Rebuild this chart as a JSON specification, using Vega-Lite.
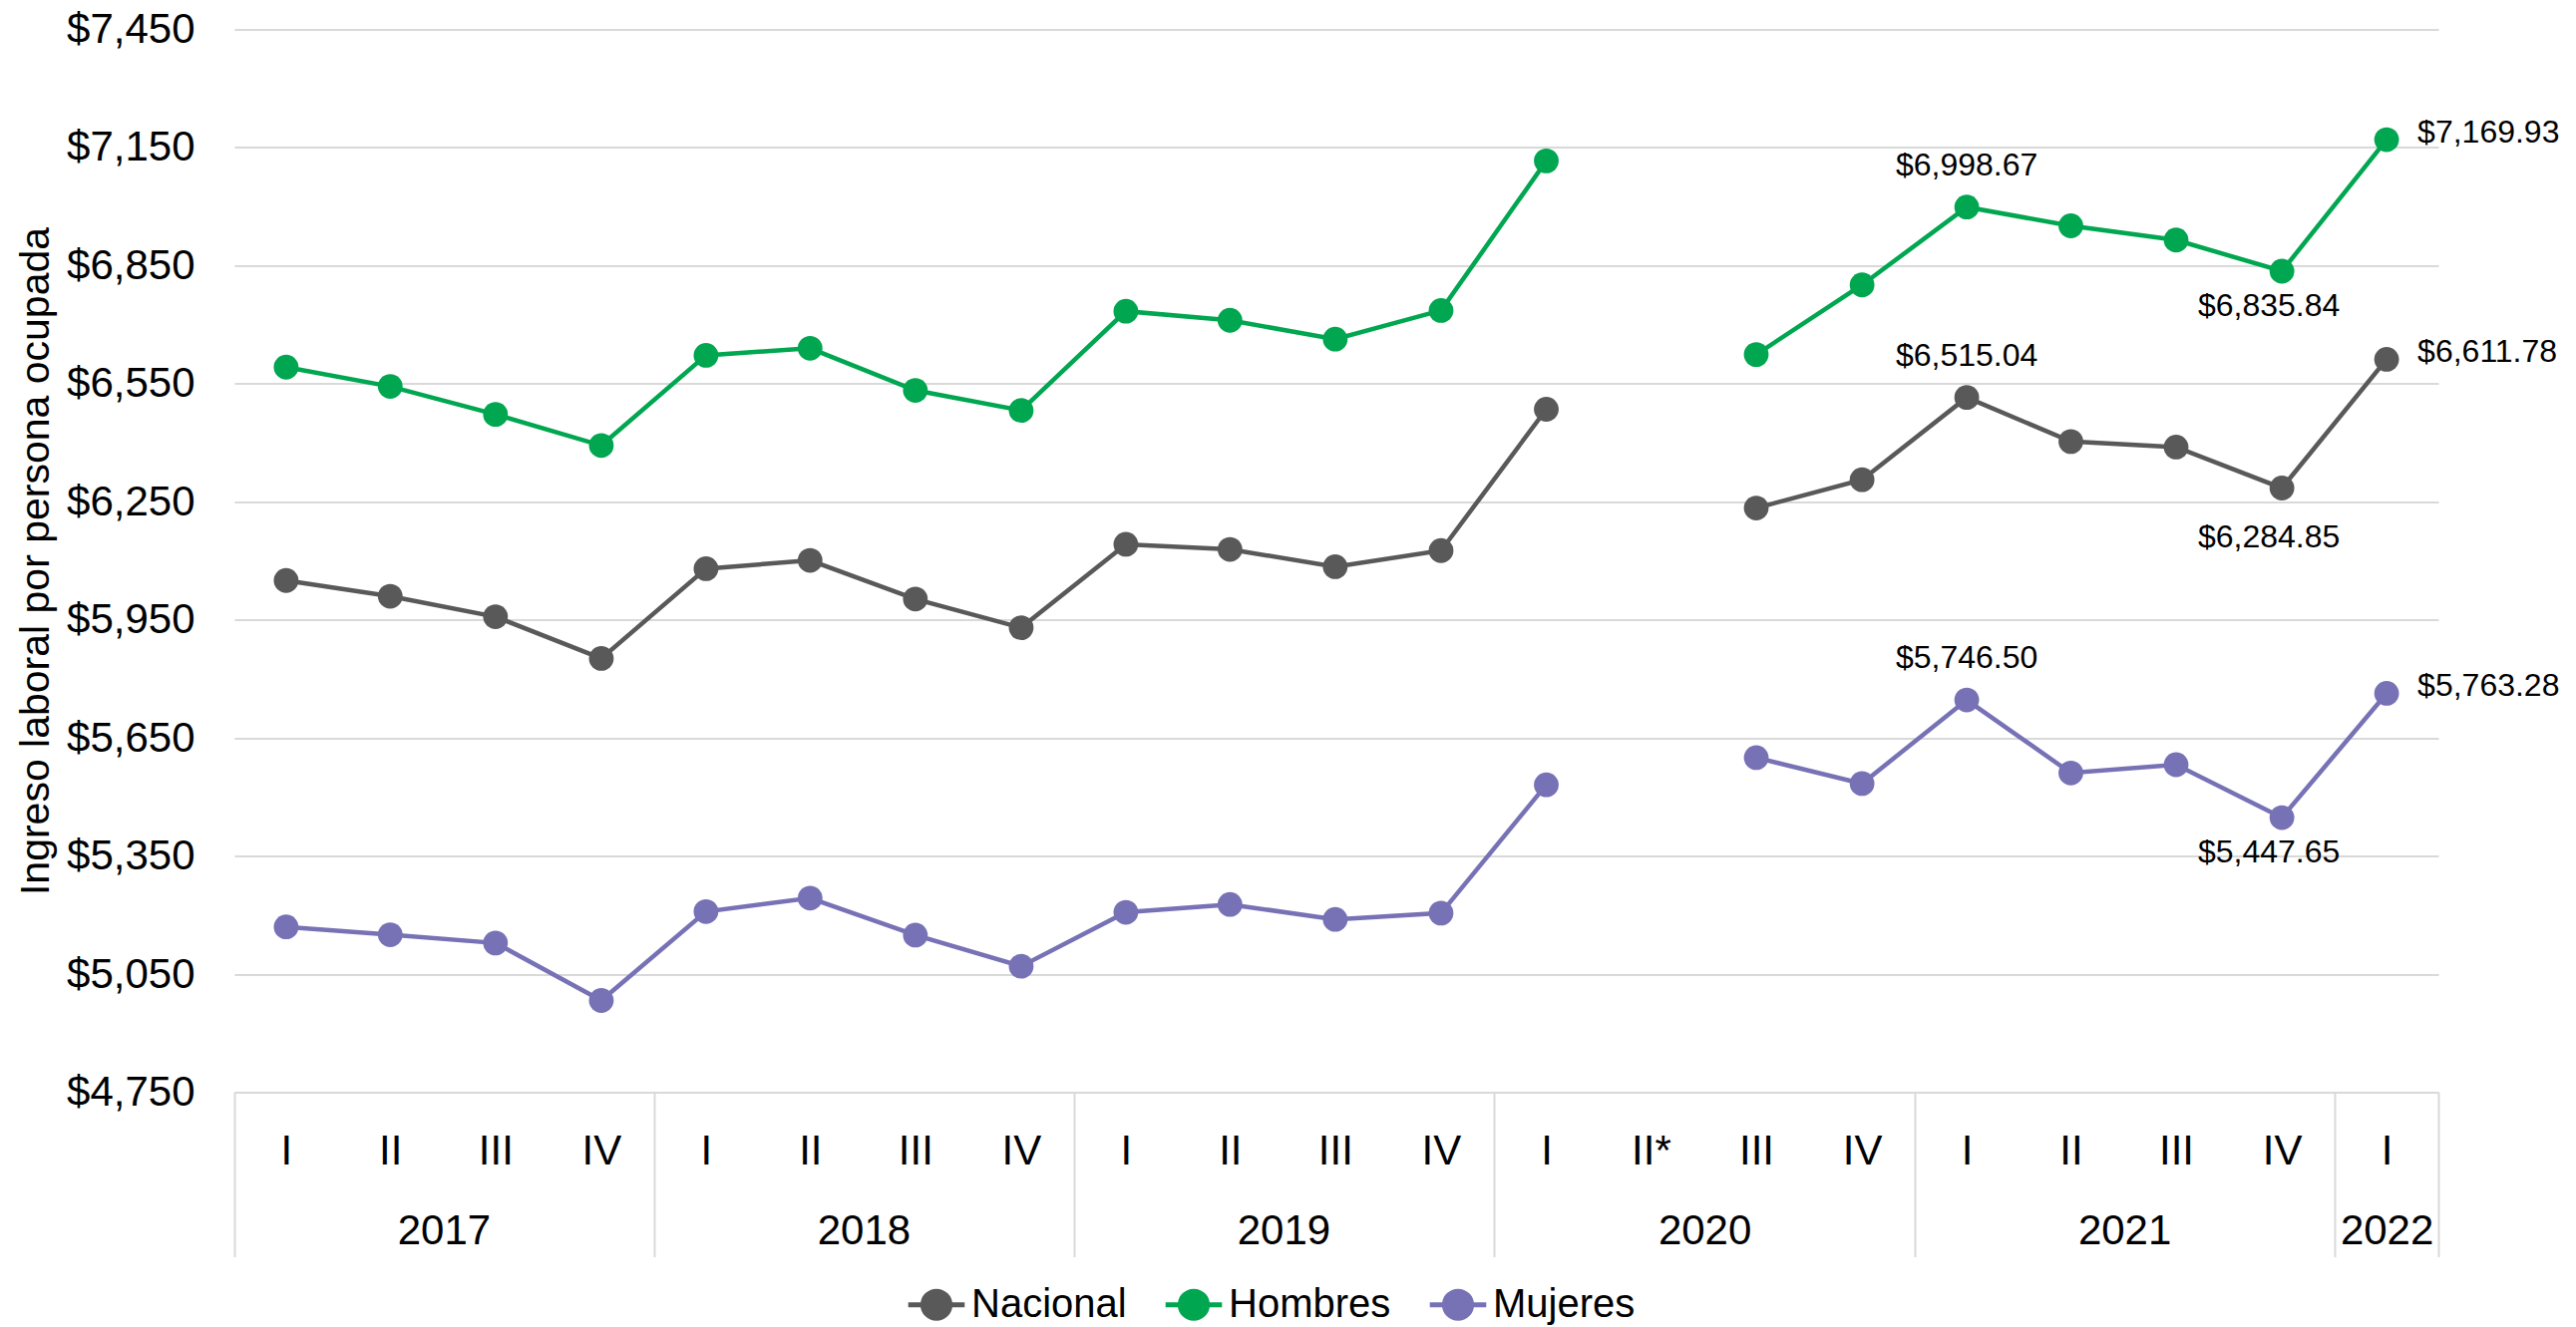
{
  "$schema": "https://vega.github.io/schema/vega-lite/v6.json",
  "width": 2210,
  "height": 1066,
  "autosize": {"type": "none"},
  "padding": {"left": 235, "top": 29.5, "right": 138, "bottom": 235.5},
  "background": "white",
  "config": {
    "font": "Liberation Sans",
    "view": {"stroke": null},
    "axis": {"labelFont": "Liberation Sans", "titleFont": "Liberation Sans", "labelColor": "#000000", "titleColor": "#000000"}
  },
  "data": {
    "values": [
      {"fecha": "2017-01-01", "serie": "Nacional", "valor": 6050},
      {"fecha": "2017-04-01", "serie": "Nacional", "valor": 6010},
      {"fecha": "2017-07-01", "serie": "Nacional", "valor": 5958},
      {"fecha": "2017-10-01", "serie": "Nacional", "valor": 5852},
      {"fecha": "2018-01-01", "serie": "Nacional", "valor": 6080},
      {"fecha": "2018-04-01", "serie": "Nacional", "valor": 6101},
      {"fecha": "2018-07-01", "serie": "Nacional", "valor": 6003},
      {"fecha": "2018-10-01", "serie": "Nacional", "valor": 5930},
      {"fecha": "2019-01-01", "serie": "Nacional", "valor": 6142},
      {"fecha": "2019-04-01", "serie": "Nacional", "valor": 6129},
      {"fecha": "2019-07-01", "serie": "Nacional", "valor": 6085},
      {"fecha": "2019-10-01", "serie": "Nacional", "valor": 6126},
      {"fecha": "2020-01-01", "serie": "Nacional", "valor": 6485},
      {"fecha": "2020-04-01", "serie": "Nacional", "valor": null},
      {"fecha": "2020-07-01", "serie": "Nacional", "valor": 6234},
      {"fecha": "2020-10-01", "serie": "Nacional", "valor": 6306},
      {"fecha": "2021-01-01", "serie": "Nacional", "valor": 6515.04},
      {"fecha": "2021-04-01", "serie": "Nacional", "valor": 6403},
      {"fecha": "2021-07-01", "serie": "Nacional", "valor": 6389},
      {"fecha": "2021-10-01", "serie": "Nacional", "valor": 6284.85},
      {"fecha": "2022-01-01", "serie": "Nacional", "valor": 6611.78},
      {"fecha": "2017-01-01", "serie": "Hombres", "valor": 6592},
      {"fecha": "2017-04-01", "serie": "Hombres", "valor": 6543},
      {"fecha": "2017-07-01", "serie": "Hombres", "valor": 6472},
      {"fecha": "2017-10-01", "serie": "Hombres", "valor": 6393},
      {"fecha": "2018-01-01", "serie": "Hombres", "valor": 6622},
      {"fecha": "2018-04-01", "serie": "Hombres", "valor": 6640},
      {"fecha": "2018-07-01", "serie": "Hombres", "valor": 6533},
      {"fecha": "2018-10-01", "serie": "Hombres", "valor": 6482},
      {"fecha": "2019-01-01", "serie": "Hombres", "valor": 6734},
      {"fecha": "2019-04-01", "serie": "Hombres", "valor": 6711},
      {"fecha": "2019-07-01", "serie": "Hombres", "valor": 6663},
      {"fecha": "2019-10-01", "serie": "Hombres", "valor": 6736},
      {"fecha": "2020-01-01", "serie": "Hombres", "valor": 7116},
      {"fecha": "2020-04-01", "serie": "Hombres", "valor": null},
      {"fecha": "2020-07-01", "serie": "Hombres", "valor": 6624},
      {"fecha": "2020-10-01", "serie": "Hombres", "valor": 6801},
      {"fecha": "2021-01-01", "serie": "Hombres", "valor": 6998.67},
      {"fecha": "2021-04-01", "serie": "Hombres", "valor": 6951},
      {"fecha": "2021-07-01", "serie": "Hombres", "valor": 6915},
      {"fecha": "2021-10-01", "serie": "Hombres", "valor": 6835.84},
      {"fecha": "2022-01-01", "serie": "Hombres", "valor": 7169.93},
      {"fecha": "2017-01-01", "serie": "Mujeres", "valor": 5170},
      {"fecha": "2017-04-01", "serie": "Mujeres", "valor": 5150},
      {"fecha": "2017-07-01", "serie": "Mujeres", "valor": 5129},
      {"fecha": "2017-10-01", "serie": "Mujeres", "valor": 4983},
      {"fecha": "2018-01-01", "serie": "Mujeres", "valor": 5209},
      {"fecha": "2018-04-01", "serie": "Mujeres", "valor": 5243},
      {"fecha": "2018-07-01", "serie": "Mujeres", "valor": 5149},
      {"fecha": "2018-10-01", "serie": "Mujeres", "valor": 5070},
      {"fecha": "2019-01-01", "serie": "Mujeres", "valor": 5207},
      {"fecha": "2019-04-01", "serie": "Mujeres", "valor": 5227},
      {"fecha": "2019-07-01", "serie": "Mujeres", "valor": 5189},
      {"fecha": "2019-10-01", "serie": "Mujeres", "valor": 5205},
      {"fecha": "2020-01-01", "serie": "Mujeres", "valor": 5531},
      {"fecha": "2020-04-01", "serie": "Mujeres", "valor": null},
      {"fecha": "2020-07-01", "serie": "Mujeres", "valor": 5600},
      {"fecha": "2020-10-01", "serie": "Mujeres", "valor": 5534},
      {"fecha": "2021-01-01", "serie": "Mujeres", "valor": 5746.50},
      {"fecha": "2021-04-01", "serie": "Mujeres", "valor": 5561},
      {"fecha": "2021-07-01", "serie": "Mujeres", "valor": 5582},
      {"fecha": "2021-10-01", "serie": "Mujeres", "valor": 5447.65},
      {"fecha": "2022-01-01", "serie": "Mujeres", "valor": 5763.28}
    ]
  },
  "layer": [
    {
      "mark": {"type": "line", "strokeWidth": 4.5, "invalid": "break-paths-filter-domains"},
      "encoding": {
        "x": {
          "field": "fecha", "type": "temporal", "timeUnit": "utcyearquarter", "bandPosition": 0.5,
          "scale": {"domain": [{"year": 2017, "month": 1, "date": 1, "utc": true}, {"year": 2022, "month": 4, "date": 1, "utc": true}], "nice": false},
          "axis": {
            "orient": "bottom", "title": null,
            "values": [
              {"year": 2017, "month": 2, "date": 15, "utc": true}, {"year": 2017, "month": 5, "date": 16, "hours": 12, "utc": true}, {"year": 2017, "month": 8, "date": 16, "utc": true}, {"year": 2017, "month": 11, "date": 16, "utc": true},
              {"year": 2018, "month": 2, "date": 15, "utc": true}, {"year": 2018, "month": 5, "date": 16, "hours": 12, "utc": true}, {"year": 2018, "month": 8, "date": 16, "utc": true}, {"year": 2018, "month": 11, "date": 16, "utc": true},
              {"year": 2019, "month": 2, "date": 15, "utc": true}, {"year": 2019, "month": 5, "date": 16, "hours": 12, "utc": true}, {"year": 2019, "month": 8, "date": 16, "utc": true}, {"year": 2019, "month": 11, "date": 16, "utc": true},
              {"year": 2020, "month": 2, "date": 15, "hours": 12, "utc": true}, {"year": 2020, "month": 5, "date": 16, "hours": 12, "utc": true}, {"year": 2020, "month": 8, "date": 16, "utc": true}, {"year": 2020, "month": 11, "date": 16, "utc": true},
              {"year": 2021, "month": 2, "date": 15, "utc": true}, {"year": 2021, "month": 5, "date": 16, "hours": 12, "utc": true}, {"year": 2021, "month": 8, "date": 16, "utc": true}, {"year": 2021, "month": 11, "date": 16, "utc": true},
              {"year": 2022, "month": 2, "date": 15, "utc": true}
            ],
            "labelExpr": "['I','II','III','IV'][utcquarter(datum.value)-1] + ((utcyear(datum.value)==2020 && utcquarter(datum.value)==2) ? '*' : '')",
            "ticks": false, "grid": false, "domain": true, "domainColor": "#d9d9d9", "domainWidth": 2,
            "labelFontSize": 42, "labelBaseline": "alphabetic", "labelPadding": 72, "labelAlign": "center", "labelFlush": false, "labelOverlap": false
          }
        },
        "y": {
          "field": "valor", "type": "quantitative",
          "scale": {"domain": [4750, 7450], "nice": false, "zero": false},
          "axis": {
            "title": "Ingreso laboral por persona ocupada",
            "values": [4750, 5050, 5350, 5650, 5950, 6250, 6550, 6850, 7150, 7450],
            "format": "$,.0f", "ticks": false, "domain": false, "grid": true, "gridColor": "#d9d9d9", "gridWidth": 2,
            "labelFontSize": 42, "labelPadding": 40, "titleFontSize": 41, "titleFontWeight": "normal", "titlePadding": 9
          }
        },
        "color": {
          "field": "serie", "type": "nominal",
          "scale": {"domain": ["Nacional", "Hombres", "Mujeres"], "range": ["#595959", "#00A650", "#7772B5"]},
          "legend": {
            "title": null, "orient": "none", "legendX": 673, "legendY": 1248, "direction": "horizontal",
            "symbolType": "M-1,0L1,0M-0.48,0A0.48,0.48,0,1,1,0.48,0A0.48,0.48,0,1,1,-0.48,0Z",
            "symbolSize": 3200, "symbolStrokeWidth": 5, "labelFontSize": 40, "labelFont": "Liberation Sans", "labelColor": "#000000",
            "labelOffset": 4, "columnPadding": 28, "labelLimit": 0,
            "encode": {"symbols": {"update": {"fill": {"scale": "color", "field": "value"}, "stroke": {"scale": "color", "field": "value"}, "strokeWidth": {"value": 5}, "opacity": {"value": 1}}}}
          }
        }
      }
    },
    {
      "mark": {"type": "point", "filled": true, "size": 615, "opacity": 1},
      "encoding": {
        "x": {
          "field": "fecha", "type": "temporal", "timeUnit": "utcyearquarter", "bandPosition": 0.5,
          "axis": {
            "orient": "bottom", "title": null,
            "values": [
              {"year": 2017, "month": 7, "date": 2, "utc": true}, {"year": 2018, "month": 7, "date": 2, "utc": true}, {"year": 2019, "month": 7, "date": 2, "utc": true},
              {"year": 2020, "month": 7, "date": 2, "utc": true}, {"year": 2021, "month": 7, "date": 2, "utc": true}, {"year": 2022, "month": 2, "date": 15, "utc": true}
            ],
            "labelExpr": "utcFormat(datum.value, '%Y')",
            "ticks": false, "grid": false, "domain": false,
            "labelFontSize": 42, "labelBaseline": "alphabetic", "labelPadding": 152, "labelAlign": "center", "labelFlush": false, "labelOverlap": false
          }
        },
        "y": {"field": "valor", "type": "quantitative"},
        "color": {
          "field": "serie", "type": "nominal",
          "legend": {
            "title": null, "orient": "none", "legendX": 673, "legendY": 1248, "direction": "horizontal",
            "symbolType": "M-1,0L1,0M-0.48,0A0.48,0.48,0,1,1,0.48,0A0.48,0.48,0,1,1,-0.48,0Z",
            "symbolSize": 3200, "symbolStrokeWidth": 5, "labelFontSize": 40, "labelFont": "Liberation Sans", "labelColor": "#000000",
            "labelOffset": 4, "columnPadding": 28, "labelLimit": 0,
            "encode": {"symbols": {"update": {"fill": {"scale": "color", "field": "value"}, "stroke": {"scale": "color", "field": "value"}, "strokeWidth": {"value": 5}, "opacity": {"value": 1}}}}
          }
        }
      }
    },
    {
      "transform": [{"filter": {"field": "fecha", "timeUnit": "utcyearquarter", "equal": {"year": 2021, "quarter": 1, "utc": true}}}],
      "mark": {"type": "text", "font": "Liberation Sans", "fontSize": 32, "color": "#000000", "baseline": "alphabetic", "align": "center", "dy": -32},
      "encoding": {
        "x": {
          "field": "fecha", "type": "temporal", "timeUnit": "utcyearquarter", "bandPosition": 0.5,
          "axis": {
            "orient": "bottom", "title": null,
            "values": [
              {"year": 2017, "month": 1, "date": 1, "utc": true}, {"year": 2018, "month": 1, "date": 1, "utc": true}, {"year": 2019, "month": 1, "date": 1, "utc": true},
              {"year": 2020, "month": 1, "date": 1, "utc": true}, {"year": 2021, "month": 1, "date": 1, "utc": true}, {"year": 2022, "month": 1, "date": 1, "utc": true},
              {"year": 2022, "month": 4, "date": 1, "utc": true}
            ],
            "labels": false, "domain": false, "grid": false, "ticks": true, "tickSize": 165, "tickColor": "#d9d9d9", "tickWidth": 2
          }
        },
        "y": {"field": "valor", "type": "quantitative"},
        "text": {"field": "valor", "type": "quantitative", "format": "$,.2f"}
      }
    },
    {
      "transform": [{"filter": {"and": [{"field": "fecha", "timeUnit": "utcyearquarter", "equal": {"year": 2021, "quarter": 4, "utc": true}}, {"not": {"field": "serie", "equal": "Nacional"}}]}}],
      "mark": {"type": "text", "font": "Liberation Sans", "fontSize": 32, "color": "#000000", "baseline": "alphabetic", "align": "center", "dx": -13, "dy": 45},
      "encoding": {
        "x": {"field": "fecha", "type": "temporal", "timeUnit": "utcyearquarter", "bandPosition": 0.5, "axis": null},
        "y": {"field": "valor", "type": "quantitative"},
        "text": {"field": "valor", "type": "quantitative", "format": "$,.2f"}
      }
    },
    {
      "transform": [{"filter": {"and": [{"field": "fecha", "timeUnit": "utcyearquarter", "equal": {"year": 2021, "quarter": 4, "utc": true}}, {"field": "serie", "equal": "Nacional"}]}}],
      "mark": {"type": "text", "font": "Liberation Sans", "fontSize": 32, "color": "#000000", "baseline": "alphabetic", "align": "center", "dx": -13, "dy": 59},
      "encoding": {
        "x": {"field": "fecha", "type": "temporal", "timeUnit": "utcyearquarter", "bandPosition": 0.5, "axis": null},
        "y": {"field": "valor", "type": "quantitative"},
        "text": {"field": "valor", "type": "quantitative", "format": "$,.2f"}
      }
    },
    {
      "transform": [{"filter": {"field": "fecha", "timeUnit": "utcyearquarter", "equal": {"year": 2022, "quarter": 1, "utc": true}}}],
      "mark": {"type": "text", "font": "Liberation Sans", "fontSize": 32, "color": "#000000", "baseline": "alphabetic", "align": "left", "dx": 31, "dy": 3},
      "encoding": {
        "x": {"field": "fecha", "type": "temporal", "timeUnit": "utcyearquarter", "bandPosition": 0.5, "axis": null},
        "y": {"field": "valor", "type": "quantitative"},
        "text": {"field": "valor", "type": "quantitative", "format": "$,.2f"}
      }
    }
  ],
  "resolve": {"axis": {"x": "independent"}}
}
